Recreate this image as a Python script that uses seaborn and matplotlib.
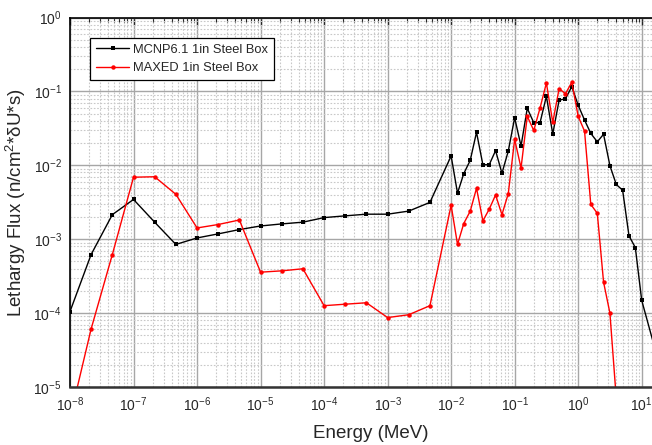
import numpy as np
import pandas as pd
import matplotlib
matplotlib.use("Agg")
import matplotlib.pyplot as plt
import seaborn as sns
from matplotlib.ticker import LogLocator, NullFormatter, FixedLocator

energy = [1e-8, 2.15e-8, 4.64e-8, 1e-7, 2.15e-7, 4.64e-7, 1e-6, 2.15e-6, 4.64e-6,
          1e-5, 2.15e-5, 4.64e-5, 1e-4, 2.15e-4, 4.64e-4, 1e-3, 2.15e-3, 4.64e-3,
          1e-2, 1.26e-2, 1.58e-2, 2.0e-2, 2.51e-2, 3.16e-2, 3.98e-2, 5.01e-2, 6.31e-2, 7.94e-2,
          0.1, 0.126, 0.158, 0.2, 0.251, 0.316, 0.398, 0.501, 0.631, 0.794,
          1.0, 1.26, 1.58, 2.0, 2.51, 3.16, 3.98, 5.01, 6.31, 7.94, 10.0, 20.0]

mcnp = [1.05e-4, 6.2e-4, 2.15e-3, 3.45e-3, 1.7e-3, 8.5e-4, 1.04e-3, 1.18e-3, 1.35e-3,
        1.51e-3, 1.61e-3, 1.70e-3, 1.96e-3, 2.07e-3, 2.18e-3, 2.18e-3, 2.4e-3, 3.15e-3,
        1.34e-2, 4.2e-3, 7.7e-3, 1.17e-2, 2.8e-2, 1.02e-2, 1.02e-2, 1.58e-2, 7.8e-3, 1.56e-2,
        4.4e-2, 1.82e-2, 5.9e-2, 3.77e-2, 3.77e-2, 8.6e-2, 2.65e-2, 7.6e-2, 7.96e-2, 0.116,
        6.5e-2, 4.1e-2, 2.7e-2, 2.08e-2, 2.63e-2, 9.9e-3, 5.5e-3, 4.6e-3, 1.11e-3, 7.7e-4, 1.49e-4, 1.7e-5]

maxed_energy = energy[:45]
maxed = [3.8e-6, 6.1e-5, 6.2e-4, 6.9e-3, 7.0e-3, 4.05e-3, 1.42e-3, 1.58e-3, 1.82e-3,
         3.58e-4, 3.73e-4, 3.98e-4, 1.26e-4, 1.32e-4, 1.38e-4, 8.7e-5, 9.5e-5, 1.26e-4,
         2.88e-3, 8.5e-4, 1.63e-3, 2.4e-3, 4.9e-3, 1.77e-3, 2.55e-3, 3.97e-3, 2.15e-3, 4.15e-3,
         2.25e-2, 9.2e-3, 4.6e-2, 2.96e-2, 5.95e-2, 0.13, 3.8e-2, 0.109, 9.3e-2, 0.133,
         4.6e-2, 2.9e-2, 2.96e-3, 2.24e-3, 2.63e-4, 1.0e-4, 7e-6]

labels = ["MCNP6.1 1in Steel Box", "MAXED 1in Steel Box"]
x_major = [1e-8, 1e-7, 1e-6, 1e-5, 1e-4, 1e-3, 1e-2, 1e-1, 1e0, 1e1]
y_major = [1e-5, 1e-4, 1e-3, 1e-2, 1e-1, 1e0]

df = pd.concat([
    pd.DataFrame({"Energy": energy, "Flux": mcnp, "Series": labels[0]}),
    pd.DataFrame({"Energy": maxed_energy, "Flux": maxed, "Series": labels[1]}),
], ignore_index=True)

sns.set_style("white")
plt.rcParams["font.family"] = ["Liberation Sans", "DejaVu Sans"]
plt.rcParams["mathtext.fontset"] = "custom"
plt.rcParams["mathtext.rm"] = "Liberation Sans"
plt.rcParams["mathtext.it"] = "Liberation Sans:italic"
plt.rcParams["mathtext.bf"] = "Liberation Sans:bold"

fig = plt.figure(figsize=(6.52, 4.45), dpi=100)
ax = fig.add_axes([70 / 652, 58 / 445, 602 / 652, 369.5 / 445])

sns.lineplot(data=df, x="Energy", y="Flux", hue="Series", style="Series",
             palette={labels[0]: "black", labels[1]: "#ff0000"},
             markers={labels[0]: "s", labels[1]: "o"}, dashes=False,
             linewidth=1.0, markersize=3.2, markeredgewidth=0, sort=False,
             ax=ax, estimator=None)

ax.set_xscale("log")
ax.set_yscale("log")
ax.set_xlim(1e-8, 30)
ax.set_ylim(1e-5, 1e0)

ax.xaxis.set_major_locator(FixedLocator(x_major))
ax.xaxis.set_minor_locator(LogLocator(base=10, subs=np.arange(2, 10), numticks=20))
ax.xaxis.set_minor_formatter(NullFormatter())
ax.yaxis.set_major_locator(FixedLocator(y_major))
ax.yaxis.set_minor_locator(LogLocator(base=10, subs=np.arange(2, 10), numticks=20))
ax.yaxis.set_minor_formatter(NullFormatter())

ax.grid(True, which="major", color="#a6a6a6", linewidth=1.0, linestyle="-")
ax.grid(True, which="minor", color="#c8c8c8", linewidth=0.8, linestyle=(0, (1.5, 1.5)))
ax.set_axisbelow(True)

ax.tick_params(which="both", direction="in", top=True, right=False, labelsize=10, pad=6)
ax.tick_params(which="major", length=5, width=1.0)
ax.tick_params(which="minor", length=3, width=0.8)

for s in ["left", "top"]:
    ax.spines[s].set_color("black")
    ax.spines[s].set_linewidth(1.2)
ax.spines["bottom"].set_color("#333333")
ax.spines["bottom"].set_linewidth(1.8)
ax.spines["right"].set_visible(False)

ax.set_xlabel("Energy (MeV)", fontsize=13.5, labelpad=8)
ax.set_ylabel("Lethargy Flux (n/cm$^{2}$*δU*s)", fontsize=13.5, labelpad=4)

leg = ax.legend(loc="upper left", bbox_to_anchor=(20 / 602, 1 - 20.5 / 369.5),
                frameon=True, fancybox=False, fontsize=9.3, handlelength=2.6,
                borderpad=0.45, labelspacing=0.5, handletextpad=0.3, borderaxespad=0)
leg.get_frame().set_edgecolor("black")
leg.get_frame().set_linewidth(0.9)
leg.get_frame().set_facecolor("white")
leg.get_frame().set_alpha(1)
leg.set_title(None)

fig.savefig("out.png", dpi=100)
